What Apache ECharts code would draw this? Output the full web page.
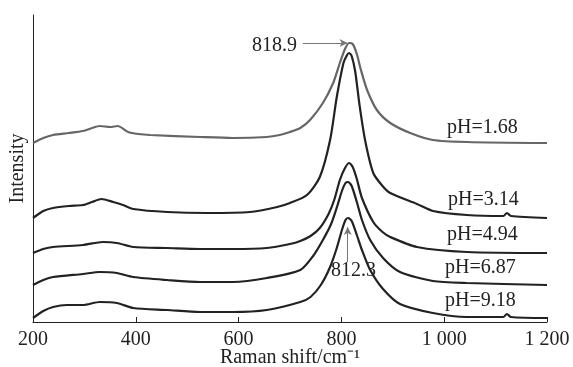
<!DOCTYPE html>
<html>
<head>
<meta charset="utf-8">
<script src="https://cdn.jsdelivr.net/npm/echarts@6/dist/echarts.min.js"></script>
<style>
  html, body { margin: 0; padding: 0; background: #fff; }
  #chart { width: 573px; height: 367px; }
</style>
</head>
<body>
<div id="chart"></div>
<script>
// 拉曼位移 / 强度 (强度为相对堆叠值)
var ph168 = [[200, 179], [220, 184], [239, 187], [270, 189], [297, 191], [315, 194], [330, 196], [350, 195], [365, 196], [385, 190], [405, 188], [428, 187], [525, 185], [589, 184], [655, 185], [680, 187], [700, 190], [720, 194], [739, 202], [764, 219], [784, 239], [797, 259], [807, 273], [815, 279], [822, 278], [830, 268], [838, 252], [850, 232], [869, 212], [895, 199], [934, 189], [978, 182], [1044, 180], [1200, 179]]
var ph314 = [[200, 104], [220, 111], [239, 114], [270, 116], [297, 117], [315, 120], [333, 123], [356, 120], [375, 117], [395, 113], [461, 110], [539, 109], [622, 110], [675, 115], [700, 119], [733, 127], [758, 145], [778, 182], [791, 225], [804, 259], [811, 267], [815, 269], [820, 266], [827, 250], [835, 218], [846, 182], [862, 149], [880, 136], [895, 129], [947, 118], [978, 111], [1044, 107], [1115, 106], [1122, 109], [1130, 106], [1200, 104]]
var ph494 = [[200, 69], [220, 73], [239, 75], [297, 77], [336, 80], [363, 79], [395, 75], [461, 74], [525, 73], [589, 73], [655, 74], [700, 78], [720, 81], [740, 86], [758, 94], [775, 108], [786, 122], [797, 142], [807, 154], [815, 159], [822, 155], [830, 143], [840, 124], [862, 100], [880, 90], [895, 85], [947, 75], [1044, 70], [1200, 69]]
var ph687 = [[200, 37], [220, 42], [239, 45], [297, 48], [330, 50], [363, 49], [395, 45], [461, 42], [525, 40], [589, 40], [655, 44], [720, 52], [745, 66], [764, 82], [780, 98], [792, 116], [801, 131], [808, 139], [813, 140], [820, 136], [830, 120], [840, 102], [856, 82], [881, 64], [914, 50], [978, 41], [1044, 39], [1200, 37]]
var ph918 = [[200, 4], [220, 11], [239, 15], [266, 17], [297, 17], [330, 20], [363, 19], [395, 14], [461, 12], [525, 10], [589, 10], [655, 12], [720, 20], [740, 25], [760, 37], [778, 55], [791, 74], [801, 92], [808, 102], [813, 104], [820, 101], [830, 87], [840, 72], [856, 52], [881, 33], [914, 18], [978, 9], [1044, 5], [1115, 5], [1122, 8], [1130, 5], [1200, 4]]
var seriesNames = ['pH=1.68', 'pH=3.14', 'pH=4.94', 'pH=6.87', 'pH=9.18']

var chart = echarts.init(document.getElementById('chart'))
var serif = 'Liberation Serif'

function spectrum(name, data, color) {
  return {
    name: name,
    type: 'line',
    data: data,
    smooth: 0.25,
    symbol: 'none',
    lineStyle: { color: color, width: 2.2 },
    silent: true,
    animation: false
  }
}

var series = [
  spectrum(seriesNames[0], ph168, '#666'),
  spectrum(seriesNames[1], ph314, '#222'),
  spectrum(seriesNames[2], ph494, '#222'),
  spectrum(seriesNames[3], ph687, '#222'),
  spectrum(seriesNames[4], ph918, '#222')
]
// 峰位箭头
series[0].markLine = {
  silent: true,
  animation: false,
  symbol: ['none', 'arrow'],
  symbolSize: [6, 8],
  lineStyle: { color: '#777', width: 1, type: 'solid' },
  label: { show: false },
  data: [
    [{ coord: [725, 279] }, { coord: [812, 279] }],
    [{ coord: [812.3, 60] }, { coord: [812.3, 95] }]
  ]
}

chart.setOption({
  animation: false,
  grid: { left: 33, right: 26, top: 15, bottom: 45, outerBoundsMode: 'none' },
  xAxis: {
    type: 'value',
    min: 200,
    max: 1200,
    interval: 200,
    name: 'Raman shift/cm⁻¹',
    nameLocation: 'middle',
    nameGap: 26,
    nameMoveOverlap: false,
    nameTextStyle: { fontFamily: serif, fontSize: 20, color: '#222' },
    axisLine: { lineStyle: { color: '#222', width: 1 } },
    axisTick: { inside: true, length: 5, lineStyle: { color: '#222' } },
    splitLine: { show: false },
    axisLabel: {
      fontFamily: serif,
      fontSize: 20,
      color: '#222',
      margin: 8,
      formatter: function(v) {
        return v >= 1000 ? String(v).replace(/^(\d)(\d{3})$/, '$1 $2') : String(v)
      }
    }
  },
  yAxis: {
    type: 'value',
    min: 0,
    max: 307,
    name: 'Intensity',
    nameLocation: 'middle',
    nameRotate: 90,
    nameGap: 5,
    nameTextStyle: { fontFamily: serif, fontSize: 20, color: '#222' },
    axisLine: { show: true, lineStyle: { color: '#222', width: 1 } },
    axisTick: { show: false },
    axisLabel: { show: false },
    splitLine: { show: false }
  },
  graphic: [
    { type: 'text', left: 447, top: 118, style: { text: seriesNames[0], font: '20px "Liberation Serif"', fill: '#222' } },
    { type: 'text', left: 448, top: 190, style: { text: seriesNames[1], font: '20px "Liberation Serif"', fill: '#222' } },
    { type: 'text', left: 447, top: 225, style: { text: seriesNames[2], font: '20px "Liberation Serif"', fill: '#222' } },
    { type: 'text', left: 445, top: 258, style: { text: seriesNames[3], font: '20px "Liberation Serif"', fill: '#222' } },
    { type: 'text', left: 445, top: 291, style: { text: seriesNames[4], font: '20px "Liberation Serif"', fill: '#222' } },
    { type: 'text', left: 252, top: 36, style: { text: '818.9', font: '20px "Liberation Serif"', fill: '#222' } },
    { type: 'text', left: 331, top: 261, style: { text: '812.3', font: '20px "Liberation Serif"', fill: '#222' } }
  ],
  series: series
})
</script>
</body>
</html>
